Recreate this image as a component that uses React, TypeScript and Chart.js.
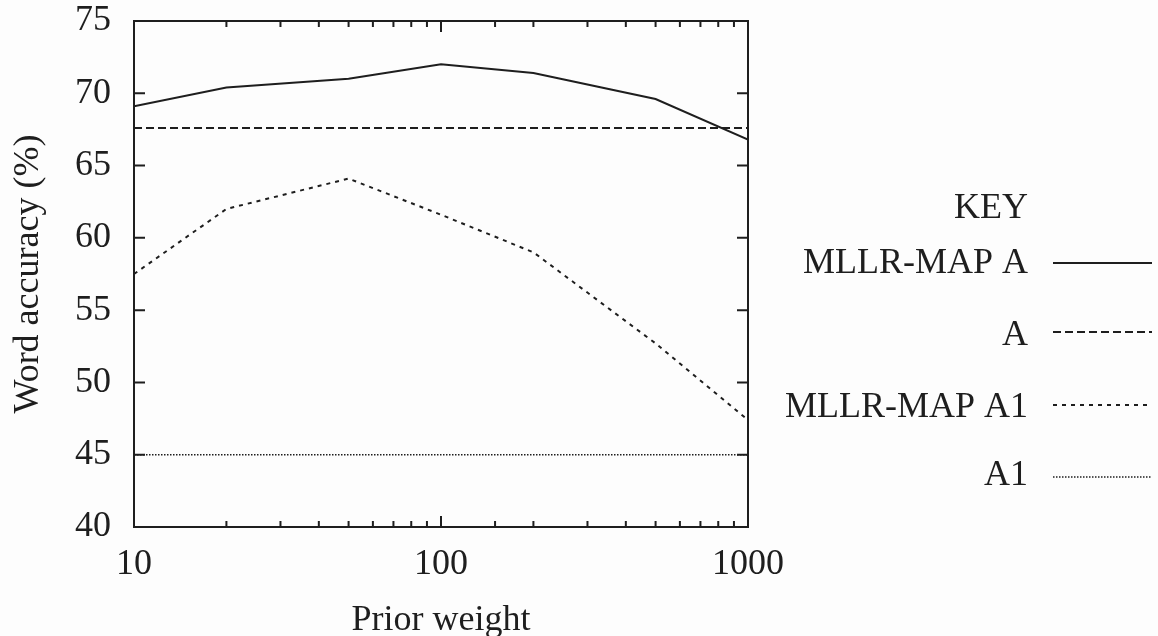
import { useEffect, useRef } from "react";
import { Chart, registerables } from "chart.js";
Chart.register(...registerables);

const priorWeights = [10, 20, 50, 100, 200, 500, 1000];
const mllrMapA = [69.1, 70.4, 71.0, 72.0, 71.4, 69.6, 66.8];
const mllrMapA1 = [57.5, 62.0, 64.1, 61.6, 59.0, 52.7, 47.4];
const flatWeights = [10, 1000];
const baselineA = [67.6, 67.6];
const baselineA1 = [45.0, 45.0];
const xTickLabels = [10, 100, 1000];
const yMin = 40;
const yMax = 75;
const yStep = 5;
const seriesNames = ["MLLR-MAP A", "A", "MLLR-MAP A1", "A1"];
const keyTitle = "KEY";
const xTitle = "Prior weight";
const yTitle = "Word accuracy (%)";

const INK = "#1e1e1e";
const FONT = "'Liberation Serif', 'DejaVu Serif', serif";
const dashes: number[][] = [[], [8, 4], [4, 5], [1.5, 1.5]];
const widths = [2, 2, 2, 1.5];

function pts(xs: number[], ys: number[]) {
  return xs.map((x, i) => ({ x, y: ys[i] }));
}

const decor = {
  id: "decor",
  beforeDraw(chart: any) {
    const { ctx, width, height } = chart;
    ctx.save();
    ctx.fillStyle = "#fdfdfd";
    ctx.fillRect(0, 0, width, height);
    ctx.restore();
  },
  afterDraw(chart: any) {
    const { ctx, chartArea: a } = chart;
    const xs = chart.scales.x;
    const ys = chart.scales.y;
    ctx.save();
    ctx.strokeStyle = INK;
    ctx.lineWidth = 2;
    ctx.setLineDash([]);
    ctx.strokeRect(a.left, a.top, a.right - a.left, a.bottom - a.top);
    ctx.beginPath();
    xs.ticks.forEach((t: any) => {
      const v = t.value;
      const px = xs.getPixelForValue(v);
      const lg = Math.log10(v);
      const len = Math.abs(lg - Math.round(lg)) < 1e-9 ? 11 : 6;
      ctx.moveTo(px, a.bottom);
      ctx.lineTo(px, a.bottom - len);
      ctx.moveTo(px, a.top);
      ctx.lineTo(px, a.top + len);
    });
    ys.ticks.forEach((t: any) => {
      const py = ys.getPixelForValue(t.value);
      ctx.moveTo(a.left, py);
      ctx.lineTo(a.left + 11, py);
      ctx.moveTo(a.right, py);
      ctx.lineTo(a.right - 11, py);
    });
    ctx.stroke();

    ctx.fillStyle = INK;
    ctx.font = `36px ${FONT}`;
    ctx.textAlign = "center";
    ctx.textBaseline = "alphabetic";
    ctx.fillText(xTitle, (a.left + a.right) / 2, 630);

    ctx.save();
    ctx.translate(38, (a.top + a.bottom) / 2);
    ctx.rotate(-Math.PI / 2);
    ctx.fillText(yTitle, 0, 0);
    ctx.restore();

    ctx.textAlign = "right";
    ctx.fillText(keyTitle, 1028, 218);
    const baselines = [273, 345, 417, 485];
    const lineYs = [263, 332, 405, 477];
    seriesNames.forEach((n, i) => {
      ctx.fillText(n, 1028, baselines[i]);
      ctx.beginPath();
      ctx.lineWidth = widths[i];
      ctx.setLineDash(dashes[i]);
      ctx.moveTo(1053, lineYs[i]);
      ctx.lineTo(1152, lineYs[i]);
      ctx.stroke();
    });
    ctx.restore();
  },
};

export default function App() {
  const ref = useRef<HTMLCanvasElement>(null);
  useEffect(() => {
    if (!ref.current) return;
    const mk = (label: string, data: any[], i: number) => ({
      label,
      data,
      borderColor: INK,
      borderWidth: widths[i],
      borderDash: dashes[i],
      pointRadius: 0,
      fill: false,
      tension: 0,
    });
    const chart = new Chart(ref.current, {
      type: "line",
      data: {
        datasets: [
          mk(seriesNames[0], pts(priorWeights, mllrMapA), 0),
          mk(seriesNames[1], pts(flatWeights, baselineA), 1),
          mk(seriesNames[2], pts(priorWeights, mllrMapA1), 2),
          mk(seriesNames[3], pts(flatWeights, baselineA1), 3),
        ],
      },
      options: {
        animation: false,
        responsive: false,
        maintainAspectRatio: false,
        layout: { padding: { left: 0, top: 21, right: 410, bottom: 0 } },
        plugins: { legend: { display: false }, tooltip: { enabled: false } },
        scales: {
          x: {
            type: "logarithmic",
            min: 10,
            max: 1000,
            grid: { display: false, drawTicks: false },
            border: { display: false },
            ticks: {
              autoSkip: false,
              maxRotation: 0,
              minRotation: 0,
              padding: 20,
              color: INK,
              font: { family: FONT, size: 36, lineHeight: 1 },
              callback: (v: any) => (xTickLabels.includes(Number(v)) ? String(v) : ""),
            },
            afterFit: (s: any) => {
              s.height = 109;
              s.paddingLeft = 0;
              s.paddingRight = 0;
            },
          },
          y: {
            type: "linear",
            min: yMin,
            max: yMax,
            grid: { display: false, drawTicks: false },
            border: { display: false },
            ticks: {
              stepSize: yStep,
              padding: 23,
              color: INK,
              font: { family: FONT, size: 36, lineHeight: 1 },
            },
            afterFit: (s: any) => {
              s.width = 134;
              s.paddingTop = 0;
              s.paddingBottom = 0;
            },
          },
        },
      },
      plugins: [decor],
    });
    return () => chart.destroy();
  }, []);
  return (
    <div style={{ position: "fixed", left: 0, top: 0, width: 1158, height: 636 }}>
      <canvas ref={ref} width={1158} height={636} style={{ display: "block" }} />
    </div>
  );
}
